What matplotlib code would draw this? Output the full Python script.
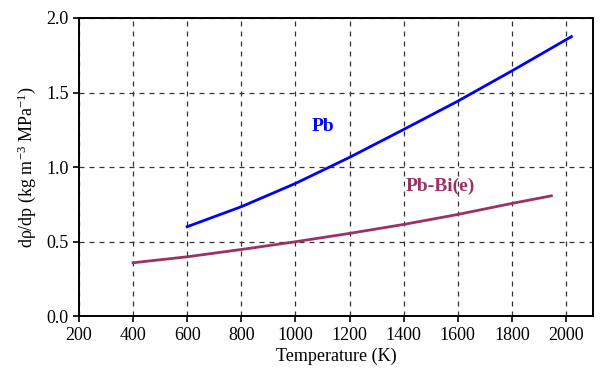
import matplotlib
matplotlib.use("Agg")
import matplotlib.pyplot as plt
import numpy as np

plt.rcParams['font.family'] = ['Liberation Serif', 'DejaVu Serif']
plt.rcParams['mathtext.fontset'] = 'custom'
plt.rcParams['mathtext.rm'] = 'Liberation Serif'
plt.rcParams['mathtext.it'] = 'Liberation Serif:italic'

pb_T = [600, 800, 1000, 1200, 1400, 1600, 1800, 2020]
pb_v = [0.60, 0.734, 0.89, 1.065, 1.252, 1.442, 1.645, 1.875]
pbbi_T = [400, 600, 800, 1000, 1200, 1400, 1600, 1800, 1946]
pbbi_v = [0.358, 0.398, 0.447, 0.499, 0.555, 0.615, 0.682, 0.756, 0.807]

xticks = [200, 400, 600, 800, 1000, 1200, 1400, 1600, 1800, 2000]
yticks = [0.0, 0.5, 1.0, 1.5, 2.0]

fig = plt.figure(figsize=(6.12, 3.75), dpi=100)
ax = fig.add_axes([0.129, 0.157, 0.84, 0.795])

ax.plot(pb_T, pb_v, color='#0000ff', lw=2)
ax.plot(pbbi_T, pbbi_v, color='#993366', lw=2)

ax.text(1100, 1.27, 'Pb', color='#0000ff', fontsize=14, fontweight='bold', ha='center', va='center')
ax.text(1534, 0.87, 'Pb-Bi(e)', color='#993366', fontsize=14, fontweight='bold', ha='center', va='center')

ax.set_xlim(200, 2100)
ax.set_ylim(0, 2.0)
ax.set_xticks(xticks)
ax.set_yticks(yticks)
ax.set_yticklabels([f'{v:.1f}' for v in yticks])
ax.grid(True, color='#333333', linestyle=(0, (4, 4)), lw=0.9)
ax.tick_params(labelsize=13, direction='out', length=4, width=1.2, top=False, right=False)
for s in ax.spines.values():
    s.set_linewidth(1.4)

ax.set_xlabel('Temperature (K)', fontsize=13, labelpad=3)
ax.set_ylabel('dρ/dp (kg m$^{-3}$ MPa$^{-1}$)', fontsize=13, labelpad=6)

fig.savefig('out.png', dpi=100)
